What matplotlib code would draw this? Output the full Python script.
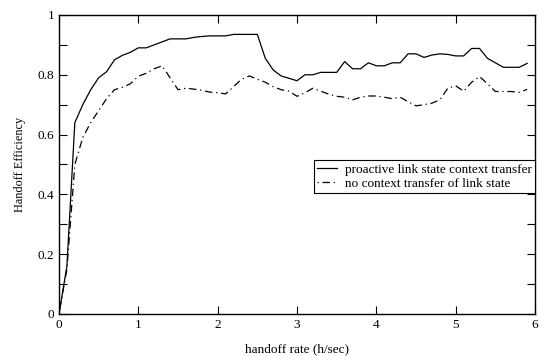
import numpy as np
import matplotlib
matplotlib.use("Agg")
import matplotlib.pyplot as plt
from matplotlib.ticker import MultipleLocator, FormatStrFormatter

plt.rcParams['font.family'] = ['Liberation Serif', 'DejaVu Serif']

rate = np.round(np.arange(0, 6.0, 0.1), 1)

proactive = [0.0, 0.16, 0.64, 0.70, 0.75, 0.79, 0.81, 0.85, 0.865, 0.875,
             0.89, 0.89, 0.90, 0.91, 0.92, 0.92, 0.92, 0.925, 0.928, 0.93,
             0.93, 0.93, 0.935, 0.935, 0.935, 0.935, 0.855, 0.816, 0.796, 0.788,
             0.78, 0.80, 0.80, 0.808, 0.808, 0.808, 0.844, 0.82, 0.82, 0.84,
             0.83, 0.83, 0.84, 0.84, 0.87, 0.87, 0.858, 0.866, 0.87, 0.868,
             0.863, 0.863, 0.888, 0.888, 0.855, 0.84, 0.825, 0.825, 0.825, 0.838]

no_transfer = [0.0, 0.15, 0.50, 0.59, 0.64, 0.68, 0.72, 0.75, 0.758, 0.77,
               0.795, 0.805, 0.82, 0.83, 0.79, 0.75, 0.755, 0.752, 0.748, 0.742,
               0.74, 0.736, 0.76, 0.785, 0.796, 0.785, 0.775, 0.76, 0.75, 0.745,
               0.728, 0.74, 0.755, 0.745, 0.735, 0.728, 0.725, 0.716, 0.725, 0.729,
               0.729, 0.725, 0.72, 0.725, 0.71, 0.696, 0.70, 0.705, 0.716, 0.755,
               0.763, 0.745, 0.775, 0.794, 0.77, 0.744, 0.744, 0.744, 0.741, 0.751]

fig = plt.figure(figsize=(5.46, 3.56), dpi=100)
ax = fig.add_axes([0.108, 0.118, 0.872, 0.84])

ax.plot(rate, proactive, color='black', lw=0.9, label='proactive link state context transfer')
ax.plot(rate, no_transfer, color='black', lw=0.9, dashes=(1, 3, 6, 3),
        label='no context transfer of link state')

ax.set_xlim(0, 6)
ax.set_ylim(0, 1)
ax.xaxis.set_major_locator(MultipleLocator(1))
ax.yaxis.set_major_locator(MultipleLocator(0.2))
ax.yaxis.set_minor_locator(MultipleLocator(0.1))
ax.yaxis.set_major_formatter(FormatStrFormatter('%g'))
ax.tick_params(which='both', direction='in', top=True, right=True, labelsize=9.5, width=0.8)
ax.tick_params(which='major', length=6)
ax.tick_params(which='minor', length=6)
for s in ax.spines.values():
    s.set_linewidth(1.0)

ax.set_xlabel('handoff rate (h/sec)', fontsize=9.5, labelpad=9)
ax.set_ylabel('Handoff Efficiency', fontsize=8.8, labelpad=8)

leg = ax.legend(loc='upper right', bbox_to_anchor=(1.0, 0.515), fontsize=9.5,
                frameon=True, fancybox=False, framealpha=1, edgecolor='black',
                borderpad=0.25, labelspacing=0.15, handlelength=1.5, handletextpad=0.6,
                borderaxespad=0)
leg.get_frame().set_linewidth(0.8)

fig.savefig('out.png', dpi=100)
